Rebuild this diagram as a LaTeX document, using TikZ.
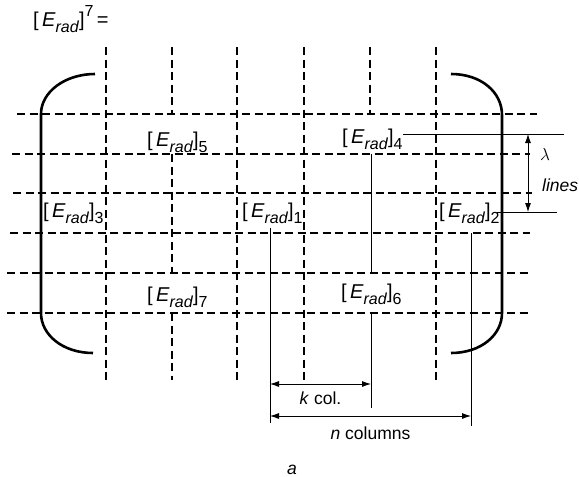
\documentclass[tikz,border=0pt]{standalone}
\usepackage{fontspec}
\setmainfont{Liberation Sans}
\usepackage{tikz}
\usetikzlibrary{arrows.meta}

\newcommand{\subsz}{\fontsize{16}{16}\selectfont}
\newcommand{\labsz}{\fontsize{20}{22}\selectfont}
\newcommand{\Erad}[1]{\labsz[\,\textit{E}\raisebox{-0.3em}{\subsz\textit{rad}\/}]\raisebox{-0.3em}{\subsz #1}}

\begin{document}
\begin{tikzpicture}[x=1pt, y=-1pt, every node/.style={font=\fontsize{17.5}{20}\selectfont, inner sep=0pt}, >={Latex[length=9pt,width=6pt]}]
	\useasboundingbox (0,0) rectangle (579,477);
	\tikzset{grid/.style={line width=1.6pt, dash pattern=on 8pt off 4.5pt},
		bracket/.style={line width=2.6pt},
		dimline/.style={line width=0.8pt}}
	% dashed lines of the field
	\foreach \y/\xa/\xb in {114/17/537, 154/12/530, 193/13/532, 233/10/530, 273/7/528, 313/7/528}
		\draw[grid] (\xa,\y) -- (\xb,\y);
	\foreach \x in {106,237,304,436}
		\draw[grid] (\x,47) -- (\x,380);
	\draw[grid] (172,47) -- (172,114);
	\draw[grid] (172,154) -- (172,273);
	\draw[grid] (172,313) -- (172,380);
	\draw[grid] (370,47) -- (370,114);
	% brackets
	\draw[bracket] (95,74) .. controls (65,74) and (41,92) .. (41,114) -- (41,313) .. controls (41,335) and (63,353) .. (93,353);
	\draw[bracket] (451,74) .. controls (481,74) and (502,92) .. (502,115) -- (502,313) .. controls (502,335) and (481,353) .. (451,353);
	% labels
	\node[anchor=base west] (etot) at (33,26) {\labsz[\,\textit{E}\raisebox{-0.3em}{\subsz\textit{rad}\/}]\raisebox{0.5em}{\subsz 7}\,=};
	\node[anchor=base west] (e5) at (147,146) {\Erad{5}};
	\node[anchor=base west] (e4) at (342,143) {\Erad{4}};
	\node[anchor=base west] (e3) at (43,217) {\Erad{3}};
	\node[anchor=base west] (e1) at (242,217) {\Erad{1}};
	\node[anchor=base west] (e2) at (439,217) {\Erad{2}};
	\node[anchor=base west] (e7) at (147,301) {\Erad{7}};
	\node[anchor=base west] (e6) at (341,298) {\Erad{6}};
	% dimension lines
	\coordinate (k0) at (270,423);
	\coordinate (k1) at (371,408);
	\coordinate (n1) at (471,426);
	\draw[dimline] (270,228) -- (k0);
	\draw[dimline] (371,154) -- (371,273);
	\draw[dimline] (371,313) -- (k1);
	\draw[dimline] (471,233) -- (n1);
	\draw[dimline, <->] (k0 |- 0,384) -- (k1 |- 0,384) node[midway, below=7pt] (kcol) {\textit{k} col.};
	\draw[dimline, <->] (k0 |- 0,416) -- (n1 |- 0,416) node[midway, below=10pt] (ncol) {\textit{n} columns};
	\coordinate (la) at (403,134);
	\coordinate (lb) at (497,212);
	\draw[dimline] (la) -- (564,134);
	\draw[dimline] (lb) -- (557,212);
	\draw[dimline, <->] (528,134) -- (528,212);
	\node[font=\fontsize{16}{16}\selectfont] (lam) at (545,154) {$\lambda$};
	\node[anchor=base west] (lines) at (542,191) {\textit{lines}};
	\node[anchor=base] (cap) at (292,474) {\textit{a}};
\end{tikzpicture}
\end{document}
